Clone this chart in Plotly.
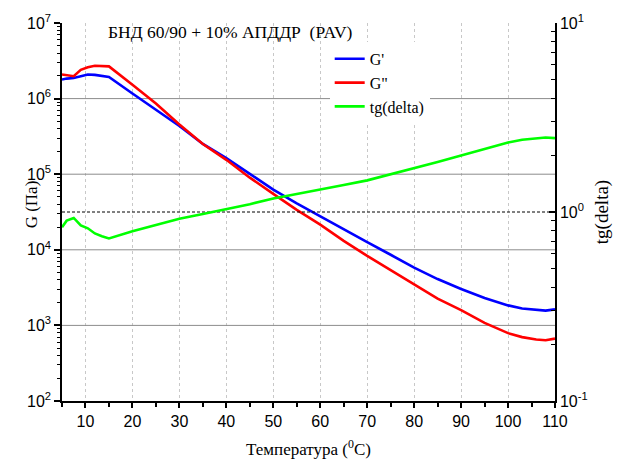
import plotly.graph_objects as go

# Temperature sweep, °C
temperature = [5, 6, 7.5, 9, 10.5, 12, 13.5, 15, 20, 25, 30, 35, 40, 45, 50, 55, 60,
               65, 70, 75, 80, 85, 90, 95, 100, 103, 106, 108, 110]

# Storage modulus G', Pa
g_storage = [1.79e6, 1.84e6, 1.87e6, 1.97e6, 2.08e6, 2.06e6, 2.0e6, 1.93e6, 1.17e6, 7.2e5,
             4.35e5, 2.51e5, 1.63e5, 1.01e5, 6.27e4, 4.1e4, 2.75e4, 1.85e4, 1.26e4, 8.6e3,
             5.8e3, 4.1e3, 3.03e3, 2.3e3, 1.84e3, 1.67e3, 1.59e3, 1.57e3, 1.63e3]

# Loss modulus G", Pa
g_loss = [2.08e6, 2.04e6, 1.98e6, 2.4e6, 2.6e6, 2.72e6, 2.72e6, 2.67e6, 1.52e6, 8.6e5,
          4.55e5, 2.51e5, 1.55e5, 9.0e4, 5.5e4, 3.38e4, 2.15e4, 1.31e4, 8.3e3, 5.4e3,
          3.52e3, 2.26e3, 1.59e3, 1.08e3, 790, 700, 650, 635, 668]

# Loss tangent tg(delta)
tg_delta = [0.83, 0.9, 0.93, 0.85, 0.82, 0.77, 0.745, 0.725, 0.79, 0.855, 0.92, 0.975,
            1.036, 1.1, 1.18, 1.25, 1.32, 1.39, 1.47, 1.58, 1.71, 1.84, 1.99, 2.16, 2.33,
            2.41, 2.46, 2.48, 2.46]

tg_reference = 1.0

g_tickvals = [1e2, 1e3, 1e4, 1e5, 1e6, 1e7]
g_ticktext = ["10<sup>2</sup>", "10<sup>3</sup>", "10<sup>4</sup>",
              "10<sup>5</sup>", "10<sup>6</sup>", "10<sup>7</sup>"]
g_gridvals = [1e3, 1e4, 1e5, 1e6]
tg_tickvals = [0.1, 1, 10]
tg_ticktext = ["10<sup>-1</sup>", "10<sup>0</sup>", "10<sup>1</sup>"]
x_tickvals = [10, 20, 30, 40, 50, 60, 70, 80, 90, 100, 110]

g_minor = [m * 10 ** e for e in range(2, 7) for m in range(2, 10)]
tg_minor = [m * 10 ** e for e in range(-1, 1) for m in range(2, 10)]

SERIF = "Liberation Serif, Times New Roman, serif"
SANS = "Liberation Sans, Arial, sans-serif"

fig = go.Figure()

# Decade gridlines of the modulus axis (drawn first so curves sit on top)
for gv in g_gridvals:
    fig.add_trace(go.Scatter(x=[temperature[0], temperature[-1]], y=[gv, gv],
                             mode="lines", line=dict(color="#8C8C8C", width=1),
                             yaxis="y", showlegend=False, hoverinfo="skip"))

# Reference level tg(delta) = 1
fig.add_trace(go.Scatter(x=[temperature[0], temperature[-1]],
                         y=[tg_reference, tg_reference], mode="lines",
                         line=dict(color="black", width=1, dash="3px,2px"),
                         yaxis="y2", showlegend=False, hoverinfo="skip"))

fig.add_trace(go.Scatter(x=temperature, y=g_storage, name="G'", mode="lines",
                         line=dict(color="#0000FF", width=2.6), yaxis="y"))
fig.add_trace(go.Scatter(x=temperature, y=g_loss, name='G"', mode="lines",
                         line=dict(color="#FF0000", width=2.6), yaxis="y"))
fig.add_trace(go.Scatter(x=temperature, y=tg_delta, name="tg(delta)", mode="lines",
                         line=dict(color="#00FF00", width=2.6), yaxis="y2"))

fig.update_layout(
    width=625, height=468,
    margin=dict(l=62, r=70, t=18, b=64),
    paper_bgcolor="white", plot_bgcolor="white",
    font=dict(family=SANS, size=16, color="black"),
    xaxis=dict(
        range=[5, 110], tickvals=x_tickvals, ticks="outside", ticklen=5,
        tickwidth=1.5, tickcolor="black", showline=True, linecolor="black",
        linewidth=1.5, showgrid=True, gridcolor="#C8C8C8", griddash="dot",
        gridwidth=1, zeroline=False,
        tickfont=dict(family=SANS, size=16),
        minor=dict(dtick=5, tick0=5, ticks="outside", ticklen=4,
                   tickcolor="black", tickwidth=1.5, showgrid=False),
        title=dict(text="Температура (<sup>0</sup>C)",
                   font=dict(family=SERIF, size=17), standoff=14),
    ),
    yaxis=dict(
        type="log", range=[2, 7], tickvals=g_tickvals, ticktext=g_ticktext,
        ticks="outside", ticklen=6, tickwidth=1.5, tickcolor="black",
        showline=True, linecolor="black", linewidth=1.5, showgrid=False,
        zeroline=False, tickfont=dict(family=SANS, size=16),
        minor=dict(tickvals=g_minor, ticks="outside", ticklen=3,
                   tickcolor="black", tickwidth=1.2, showgrid=False),
    ),
    yaxis2=dict(
        type="log", range=[-1, 1], overlaying="y", side="right",
        tickvals=tg_tickvals, ticktext=tg_ticktext, ticks="inside", ticklen=6,
        tickwidth=1.5, tickcolor="black", showline=True, linecolor="black",
        linewidth=1.5, showgrid=False, zeroline=False,
        tickfont=dict(family=SANS, size=16),
        minor=dict(tickvals=tg_minor, ticks="inside", ticklen=4,
                   tickcolor="black", tickwidth=1.2, showgrid=False),
        title=dict(text="tg(delta)", font=dict(family=SERIF, size=19), standoff=8),
    ),
    legend=dict(
        x=0.543, y=0.95, xanchor="left", yanchor="top",
        bgcolor="white", borderwidth=0,
        font=dict(family=SERIF, size=16), tracegroupgap=0,
    ),
    annotations=[
        dict(
            text="БНД 60/90 + 10% АПДДР  (PAV)", xref="paper", yref="paper",
            x=0.09, y=0.975, xanchor="left", yanchor="middle", showarrow=False,
            font=dict(family=SERIF, size=17.5, color="black"),
        ),
        # Left axis title sits between the 10^4 and 10^5 labels
        dict(
            text="G (Па)", xref="paper", yref="paper",
            x=-0.061, y=0.52, xanchor="center", yanchor="middle",
            textangle=-90, showarrow=False,
            font=dict(family=SERIF, size=17, color="black"),
        ),
    ],
)

fig.write_html("out.html")
